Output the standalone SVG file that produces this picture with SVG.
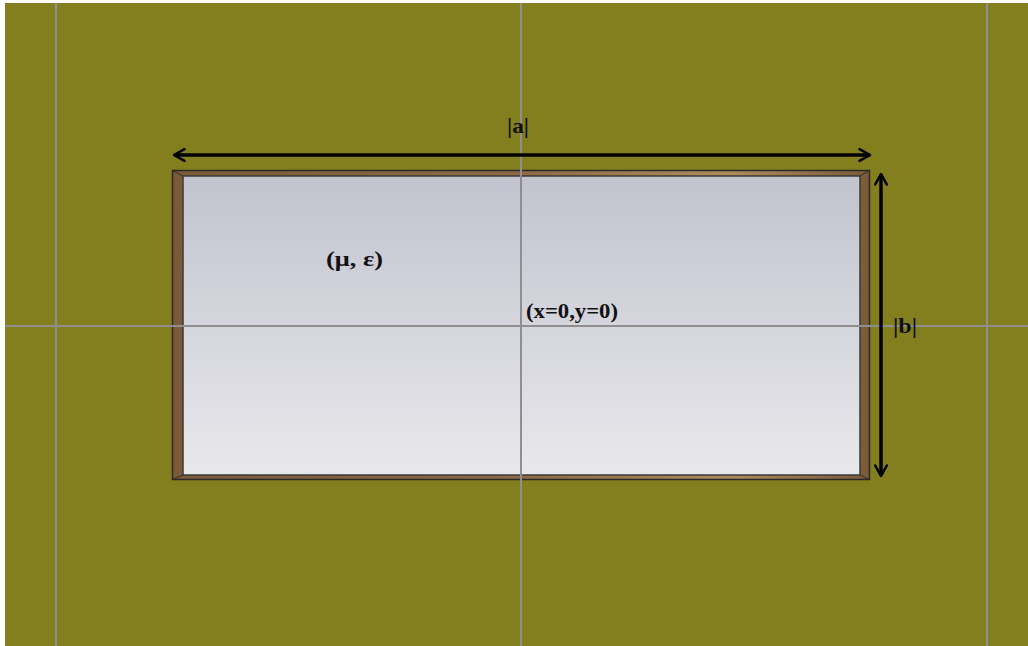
<svg xmlns="http://www.w3.org/2000/svg" width="1028" height="646" viewBox="0 0 1028 646">
<style>
.grid{stroke:#8f8f8f;stroke-width:2;fill:none}
.lbl{font-family:"Liberation Serif","DejaVu Serif",serif;font-weight:bold;font-size:22px;fill:#111}
.dim{stroke:#000;stroke-width:3.5;fill:none}
</style>
<defs>
<linearGradient id="fill" x1="0" y1="0" x2="0" y2="1">
<stop offset="0" stop-color="#c2c3ce"/>
<stop offset="1" stop-color="#e8e8ec"/>
</linearGradient>
<linearGradient id="wood" x1="0" y1="0" x2="1" y2="0">
<stop offset="0" stop-color="#7a5a38"/>
<stop offset="0.5" stop-color="#8d6a45"/>
<stop offset="0.8" stop-color="#b08a5c"/>
<stop offset="1" stop-color="#7a5a38"/>
</linearGradient>
<marker id="ah" viewBox="0 0 12 12" refX="10" refY="6" markerWidth="4" markerHeight="4" orient="auto-start-reverse" markerUnits="strokeWidth">
<path d="M1,1 L10,6 L1,11" fill="none" stroke="#000" stroke-width="2.2" stroke-linecap="round" stroke-linejoin="round"/>
</marker>
</defs>
<rect x="0" y="0" width="1028" height="646" fill="#ffffff"/>
<rect x="5" y="3" width="1023" height="643" fill="#837f1e"/>
<g id="waveguide">
<rect x="172.5" y="170.5" width="697" height="309" fill="url(#wood)" stroke="#2a2a2a" stroke-width="1.5"/>
<path d="M172.5,170.5 L183,176 M869.5,170.5 L860,176 M172.5,479.5 L183,475 M869.5,479.5 L860,475" stroke="#3a2a1a" stroke-width="1"/>
<rect x="183" y="176" width="677" height="299" fill="url(#fill)" stroke="#3a3a3a" stroke-width="1.5"/>
</g>
<g id="gridlines">
<line class="grid" x1="56" y1="3" x2="56" y2="646"/>
<line class="grid" x1="521" y1="3" x2="521" y2="646"/>
<line class="grid" x1="987" y1="3" x2="987" y2="646"/>
<line class="grid" x1="5" y1="326" x2="1028" y2="326"/>
</g>
<g id="connectors">
<line class="dim" x1="174" y1="155" x2="870" y2="155" marker-start="url(#ah)" marker-end="url(#ah)"/>
<line class="dim" x1="881" y1="174" x2="881" y2="476" marker-start="url(#ah)" marker-end="url(#ah)"/>
</g>
<g id="labels">
<text class="lbl" x="507" y="133" textLength="22" lengthAdjust="spacingAndGlyphs">|a|</text>
<text class="lbl" x="893" y="333" textLength="24" lengthAdjust="spacingAndGlyphs">|b|</text>
<text class="lbl" x="326" y="266" textLength="57" lengthAdjust="spacingAndGlyphs">(μ, ε)</text>
<text class="lbl" x="526" y="318" textLength="92" lengthAdjust="spacingAndGlyphs">(x=0,y=0)</text>
</g>
</svg>
